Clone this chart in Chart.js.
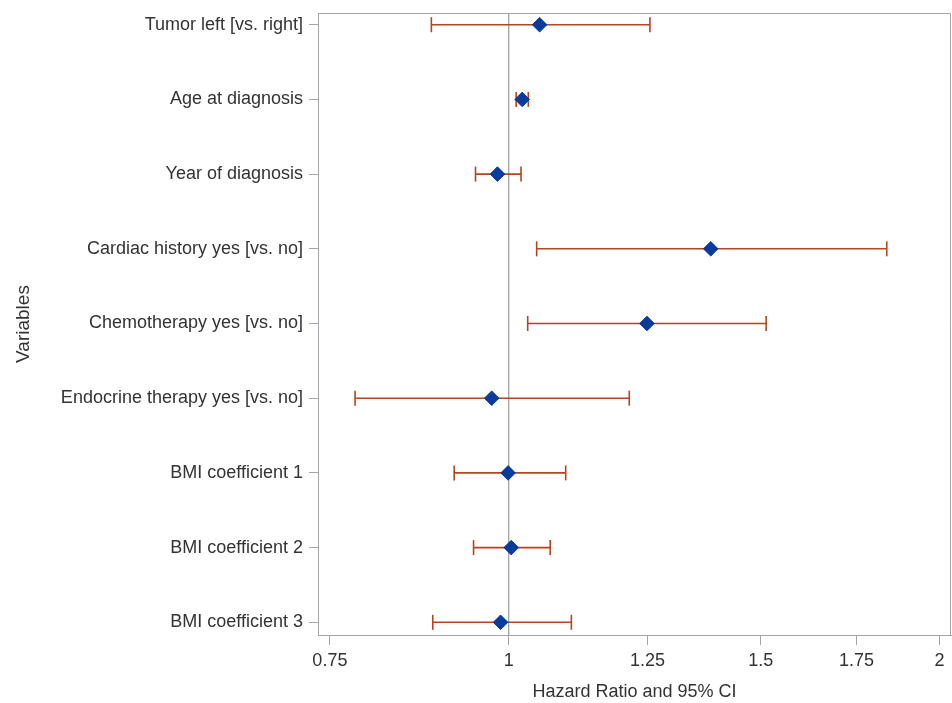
<!DOCTYPE html>
<html>
<head>
<meta charset="utf-8">
<script src="https://cdn.jsdelivr.net/npm/chart.js@4.4.1/dist/chart.umd.min.js"></script>
<style>
html,body{margin:0;padding:0;background:#fff;overflow:hidden;}
#c{display:block;width:952px;height:703px;}
</style>
</head>
<body>
<canvas id="c" width="952" height="703"></canvas>
<script>
// ---- data ----
const variables = [
  "Tumor left [vs. right]",
  "Age at diagnosis",
  "Year of diagnosis",
  "Cardiac history yes [vs. no]",
  "Chemotherapy yes [vs. no]",
  "Endocrine therapy yes [vs. no]",
  "BMI coefficient 1",
  "BMI coefficient 2",
  "BMI coefficient 3"
];
const hazardRatio = [1.051, 1.022, 0.982, 1.384, 1.249, 0.973, 0.999, 1.004, 0.987];
const ciLower     = [0.883, 1.012, 0.948, 1.046, 1.031, 0.781, 0.916, 0.945, 0.885];
const ciUpper     = [1.255, 1.032, 1.020, 1.837, 1.513, 1.214, 1.096, 1.069, 1.106];
const xTicks = [0.75, 1, 1.25, 1.5, 1.75, 2];
const referenceValue = 1;
const xTitle = "Hazard Ratio and 95% CI";
const yTitle = "Variables";

// ---- styling ----
const FONT = "'Liberation Sans', Arial, sans-serif";
const TEXT = "#333333";
const AXIS = "#A2A6AA";
const WHISKER = "#B5441F";
const MARKER = "#073B9C";
const X_MIN = 0.7358, X_MAX = 2.037;
const Y_MIN = -0.157, Y_MAX = 8.17;

const datasets = [];
// reference line
datasets.push({
  data: [{x: referenceValue, y: Y_MIN}, {x: referenceValue, y: Y_MAX}],
  showLine: true, borderColor: "#9A9A9A", borderWidth: 1.2,
  pointRadius: 0, order: 3
});
// confidence interval whiskers
variables.forEach((v, i) => {
  datasets.push({
    data: [{x: ciLower[i], y: i}, {x: ciUpper[i], y: i}],
    showLine: true, borderColor: WHISKER, borderWidth: 1.6,
    pointStyle: "line", rotation: 90, pointRadius: 7.5,
    pointBorderColor: WHISKER, pointBorderWidth: 1.6,
    pointHoverRadius: 7.5, order: 2
  });
});
// hazard ratio markers
datasets.push({
  data: hazardRatio.map((v, i) => ({x: v, y: i})),
  showLine: false, pointStyle: "rectRot", pointRadius: 7.3,
  backgroundColor: MARKER, borderColor: MARKER, borderWidth: 1,
  pointHoverRadius: 7.3, order: 1
});

const framePlugin = {
  id: "frame",
  beforeDatasetsDraw(chart) {
    const {ctx, chartArea: a} = chart;
    ctx.save();
    ctx.strokeStyle = AXIS;
    ctx.lineWidth = 1;
    ctx.beginPath();
    const top = Math.round(a.top) + 0.5, right = Math.round(a.right) - 0.5;
    ctx.moveTo(Math.round(a.left), top);
    ctx.lineTo(right, top);
    ctx.lineTo(right, Math.round(a.bottom));
    ctx.stroke();
    ctx.restore();
  }
};

new Chart(document.getElementById("c"), {
  type: "scatter",
  data: {datasets},
  plugins: [framePlugin],
  options: {
    responsive: false,
    maintainAspectRatio: false,
    devicePixelRatio: 1,
    animation: false,
    events: [],
    layout: {autoPadding: false, padding: {top: 13, right: 1, bottom: 0, left: 0}},
    plugins: {legend: {display: false}, tooltip: {enabled: false}},
    scales: {
      x: {
        type: "logarithmic",
        bounds: "data",
        min: X_MIN, max: X_MAX,
        afterBuildTicks: s => { s.ticks = xTicks.map(v => ({value: v, major: true})); },
        afterFit: s => { s.height = 68; s.paddingLeft = 0; s.paddingRight = 0; },
        ticks: {
          autoSkip: false, maxRotation: 0, padding: 5,
          color: TEXT, font: {family: FONT, size: 18},
          callback: v => String(v)
        },
        grid: {display: true, drawOnChartArea: false, drawTicks: true, tickLength: 10, color: AXIS},
        border: {display: true, color: AXIS, width: 1},
        title: {display: true, text: xTitle, color: TEXT, font: {family: FONT, size: 18}, padding: {top: 0, bottom: 0}}
      },
      y: {
        type: "linear",
        bounds: "data",
        reverse: true,
        min: Y_MIN, max: Y_MAX,
        afterBuildTicks: s => { s.ticks = variables.map((_, i) => ({value: i})); },
        afterFit: s => { s.width = 318; s.paddingTop = 0; s.paddingBottom = 0; },
        ticks: {
          autoSkip: false, padding: 6,
          color: TEXT, font: {family: FONT, size: 18},
          callback: v => variables[Math.round(v)]
        },
        grid: {display: true, drawOnChartArea: false, drawTicks: true, tickLength: 9, color: AXIS},
        border: {display: true, color: AXIS, width: 1},
        title: {display: true, text: yTitle, color: TEXT, font: {family: FONT, size: 19}, padding: {top: 12, bottom: 0}}
      }
    }
  }
});
</script>
</body>
</html>
